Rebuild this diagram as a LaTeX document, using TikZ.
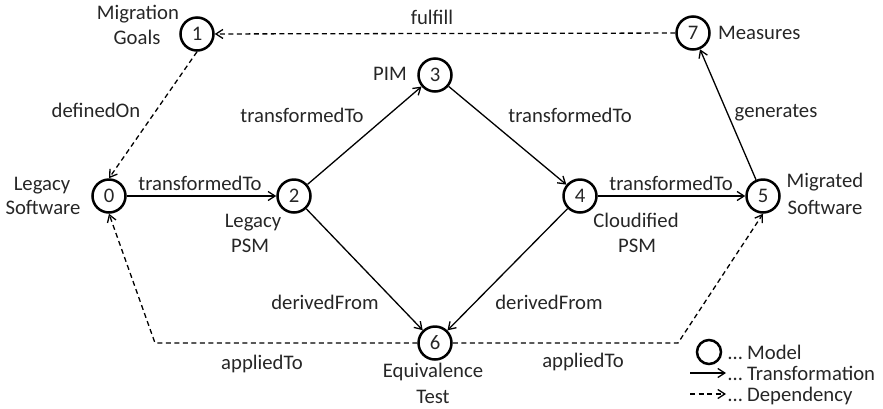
\documentclass[tikz,border=0pt]{standalone}
\usepackage{fontspec}
\setmainfont{Carlito}
\usetikzlibrary{arrows.meta}
\definecolor{ink}{HTML}{262626}
\begin{document}
\begin{tikzpicture}[x=1pt,y=-1pt,
  font=\fontsize{20.7}{25}\selectfont,
  model/.style={circle,draw=black,line width=2.5pt,minimum size=33pt,inner sep=0pt,text=ink},
  lbl/.style={anchor=base,inner sep=0pt,text=ink},
  trans/.style={line width=1.3pt,-{Straight Barb[length=7pt,width=9pt,line width=1.3pt]}},
  dep/.style={line width=1.3pt,dash pattern=on 5pt off 3.5pt,-{Straight Barb[length=7pt,width=9pt,line width=1.3pt]}}]
\useasboundingbox (0,0) rectangle (883,408);

% models
\node[model] (n0) at (109,196) {0};
\node[model] (n1) at (197,34) {1};
\node[model] (n2) at (294,196) {2};
\node[model] (n3) at (435,75) {3};
\node[model] (n4) at (580,196) {4};
\node[model] (n5) at (763,196) {5};
\node[model] (n6) at (435,343) {6};
\node[model] (n7) at (693,33) {7};

% model names
\node[lbl] (t1a) at (138,19.5) {Migration};
\node[lbl] (t1b) at (137,44.5) {Goals};
\node[lbl,anchor=base west] (t7) at (718,39) {Measures};
\node[lbl] (t0a) at (42,190) {Legacy};
\node[lbl] (t0b) at (43,214) {Software};
\node[lbl] (t2a) at (253,227) {Legacy};
\node[lbl] (t2b) at (250,252) {PSM};
\node[lbl] (t3) at (390,80) {PIM};
\node[lbl] (t4a) at (636,227) {Cloudified};
\node[lbl] (t4b) at (637,252) {PSM};
\node[lbl] (t5a) at (825,187) {Migrated};
\node[lbl] (t5b) at (825,214) {Software};
\node[lbl] (t6a) at (433,377) {Equivalence};
\node[lbl] (t6b) at (433,403) {Test};

% transformations
\draw[trans] (n0) -- (n2);
\draw[trans] (n2) -- (n3);
\draw[trans] (n3) -- (n4);
\draw[trans] (n4) -- (n5);
\draw[trans] (n2) -- (n6);
\draw[trans] (n4) -- (n6);
\draw[trans] (n5) -- (n7);

% dependencies
\coordinate (bl) at (155,343);
\coordinate (br) at (678,343);
\draw[dep] (n7) -- (n1);
\draw[dep] (n1.south) -- (n0.north);
\draw[dep] (n6.west) -- (bl) -- (n0.south);
\draw[dep] (n6.east) -- (br) -- (n5.south);

% edge labels
\node[lbl] (e02) at (200,190) {transformedTo};
\node[lbl] (e23) at (302,122) {transformedTo};
\node[lbl] (e34) at (570,122) {transformedTo};
\node[lbl] (e45) at (671,190) {transformedTo};
\node[lbl] (e57) at (776,117) {generates};
\node[lbl] (e71) at (432,24) {fulfill};
\node[lbl] (e10) at (96,117) {definedOn};
\node[lbl] (e26) at (325,309) {derivedFrom};
\node[lbl] (e46) at (549,309) {derivedFrom};
\node[lbl] (e60) at (262,369) {appliedTo};
\node[lbl] (e65) at (583,367) {appliedTo};

% legend
\node[model,minimum size=24pt] (lm) at (709,352) {};
\node[lbl,anchor=base west] (lmt) at (728,359) {… Model};
\coordinate (la1) at (690,373);
\coordinate (la2) at (726,373);
\draw[trans] (la1) -- (la2);
\node[lbl,anchor=base west] (ltt) at (728,380) {… Transformation};
\coordinate (ld1) at (690,394);
\coordinate (ld2) at (726,394);
\draw[dep] (ld1) -- (ld2);
\node[lbl,anchor=base west] (ldt) at (728,401) {… Dependency};
\end{tikzpicture}
\end{document}
